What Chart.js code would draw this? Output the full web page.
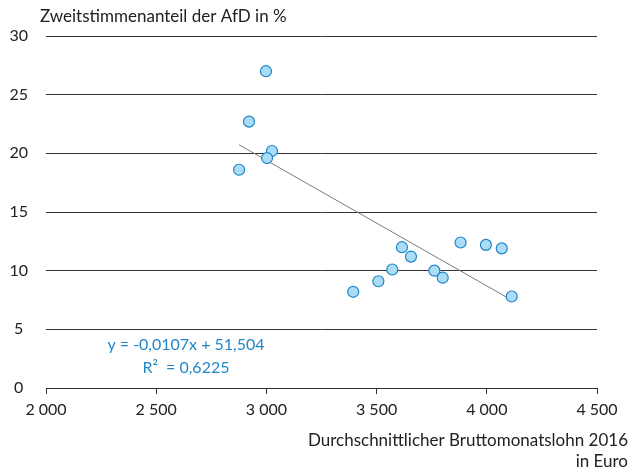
<!DOCTYPE html>
<html>
<head>
<meta charset="utf-8">
<script src="https://cdn.jsdelivr.net/npm/chart.js@4"></script>
<style>
html,body{margin:0;padding:0;background:#fff;}
#wrap{width:631px;height:474px;position:relative;}
</style>
</head>
<body>
<div id="wrap"><canvas id="c" width="631" height="474"></canvas></div>
<script>
// Average gross monthly wage 2016 (Euro)
const wages = [2998, 2921, 3025, 3003, 2876, 3394, 3508, 3571, 3615, 3656, 3762, 3800, 3881, 3996, 4068, 4113];
// AfD second-vote share (%)
const afdShare = [27.0, 22.7, 20.2, 19.6, 18.6, 8.2, 9.1, 10.1, 12.0, 11.2, 10.0, 9.4, 12.4, 12.2, 11.9, 7.8];
// Linear trend line endpoints
const trendX = [2876, 4113];
const trendY = [20.73, 7.49];
const xTickLabels = {2000:'2 000', 2500:'2 500', 3000:'3 000', 3500:'3 500', 4000:'4 000', 4500:'4 500'};
const yTickLabels = {0:'0', 5:'5', 10:'10', 15:'15', 20:'20', 25:'25', 30:'30'};
const yTitle = 'Zweitstimmenanteil der AfD in %';
const xTitle = ['Durchschnittlicher Bruttomonatslohn 2016', 'in Euro'];
const eqLines = ['y = -0,0107x + 51,504', 'R\u00B2  = 0,6225'];

const FONT = 'Lato, "Open Sans", sans-serif';
const TXT = '#222222';
const BLUE = '#1f87c8';

const textPlugin = {
  id: 'texts',
  afterDraw(chart) {
    const ctx = chart.ctx;
    ctx.save();
    ctx.font = '17px ' + FONT;
    ctx.fillStyle = TXT;
    ctx.textBaseline = 'middle';
    ctx.textAlign = 'left';
    ctx.fillText(yTitle, 40, 17);
    ctx.textAlign = 'right';
    ctx.fillText(xTitle[0], 628, 441);
    ctx.fillText(xTitle[1], 628, 462);
    ctx.font = '16px ' + FONT;
    ctx.fillStyle = BLUE;
    ctx.textAlign = 'center';
    ctx.fillText(eqLines[0], 186, 345);
    ctx.fillText(eqLines[1], 186, 368);
    ctx.restore();
  }
};

const data = {
  datasets: [
    {
      type: 'line',
      data: trendX.map((x, i) => ({x, y: trendY[i]})),
      borderColor: '#7a7a7a',
      borderWidth: 1,
      pointRadius: 0,
      fill: false,
      order: 2
    },
    {
      type: 'scatter',
      data: wages.map((x, i) => ({x, y: afdShare[i]})),
      backgroundColor: '#aadcf6',
      borderColor: '#1e86c8',
      borderWidth: 1.2,
      pointRadius: 5.5,
      pointHoverRadius: 5.5,
      order: 1
    }
  ]
};

new Chart(document.getElementById('c'), {
  type: 'scatter',
  data,
  plugins: [textPlugin],
  options: {
    responsive: false,
    animation: false,
    events: [],
    layout: {padding: {top: 36, right: 34, left: 0, bottom: 0}},
    plugins: {legend: {display: false}, tooltip: {enabled: false}},
    scales: {
      x: {
        type: 'linear',
        min: 2000, max: 4500,
        afterFit(s) { s.height = 86; },
        afterBuildTicks(s) { s.ticks = Object.keys(xTickLabels).map(v => ({value: +v})); },
        ticks: {
          callback: v => xTickLabels[v],
          font: {family: FONT, size: 16},
          color: TXT,
          padding: 6,
          maxRotation: 0,
          autoSkip: false
        },
        grid: {drawOnChartArea: false, drawTicks: true, tickLength: 6, color: '#333', lineWidth: 1},
        border: {display: true, color: '#333', width: 1}
      },
      y: {
        type: 'linear',
        min: 0, max: 30,
        afterFit(s) { s.width = 46; },
        afterBuildTicks(s) { s.ticks = Object.keys(yTickLabels).map(v => ({value: +v})); },
        ticks: {
          callback: v => yTickLabels[v],
          font: {family: FONT, size: 16},
          color: TXT,
          crossAlign: 'center',
          padding: 18
        },
        grid: {drawTicks: false, color: '#333', lineWidth: 1},
        border: {display: false}
      }
    }
  }
});
</script>
</body>
</html>
